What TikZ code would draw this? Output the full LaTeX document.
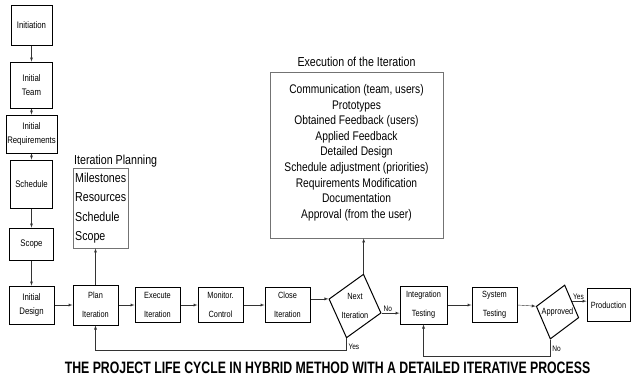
\documentclass[tikz,border=0pt]{standalone}
\usepackage{fontspec}
\setmainfont{Liberation Sans}
\newfontfamily\narrowFont[FakeStretch=0.82]{Liberation Sans}
\newfontfamily\captionFont[FakeStretch=0.745]{Liberation Sans}
\usetikzlibrary{arrows, shapes.geometric, positioning}
\tikzset{
    stepBox/.style={rectangle, draw, line width=1pt, align=center, inner sep=1pt, font=\narrowFont\fontsize{9.5}{14}\selectfont},
    flowBox/.style={rectangle, draw, line width=1pt, align=center, inner sep=1pt, minimum width=45pt, minimum height=35pt, font=\narrowFont\fontsize{9}{19}\selectfont},
    decision/.style={diamond, draw, line width=1pt, rotate=-15, inner sep=0pt},
    decisionText/.style={align=center, inner sep=0pt, font=\narrowFont\fontsize{9}{19}\selectfont},
    listBox/.style={rectangle, draw=black!55, thin, inner sep=2pt},
    titleText/.style={inner sep=1pt, font=\narrowFont\fontsize{13}{15}\selectfont},
    smallLabel/.style={inner sep=1pt, font=\narrowFont\fontsize{8}{9}\selectfont},
    flowEdge/.style={->, >=latex, thin, draw=black!80},
}
\newcommand{\flowLink}[2]{
    \draw[flowEdge] (#1) -- (#2);
}

\begin{document}
\begin{tikzpicture}[x=1pt, y=-1pt]
    \useasboundingbox (0,0) rectangle (631,381);

    % start-up phase
    \node[stepBox, minimum width=41pt, minimum height=40pt] (init) at (31.5,25) {Initiation};
    \node[stepBox, minimum width=42pt, minimum height=46pt] (team) at (31.5,85) {Initial\\Team};
    \node[stepBox, minimum width=51pt, minimum height=38pt] (req) at (31.5,134) {Initial\\Requirements};
    \node[stepBox, minimum width=42pt, minimum height=48pt] (sched) at (31.5,184) {Schedule};
    \node[stepBox, minimum width=44pt, minimum height=32pt] (scope) at (31.5,244) {Scope};
    \node[stepBox, minimum width=45pt, minimum height=38pt] (design) at (31.5,305) {Initial\\Design};

    % iteration
    \node[flowBox, minimum height=40pt] (plan) at (95.5,305) {Plan\\Iteration};
    \node[flowBox] (exec) at (157.5,305) {Execute\\Iteration};
    \node[flowBox] (monitor) at (220.5,305) {Monitor.\\Control};
    \node[flowBox] (close) at (287.5,305) {Close\\Iteration};
    \node[decision, minimum width=54pt, minimum height=66pt] (next) at (355,306) {};
    \node[decisionText] at (next) {Next\\Iteration};

    % testing
    \node[flowBox, minimum width=47pt, minimum height=38pt] (integ) at (423.5,305) {Integration\\Testing};
    \node[flowBox] (systest) at (494.5,305) {System\\Testing};
    \node[decision, minimum width=44pt, minimum height=56pt] (approved) at (557.5,312) {};
    \node[decisionText] at (approved) {Approved};
    \node[flowBox, minimum width=43pt, minimum height=33pt] (prod) at (608.5,305) {Production};

    % detail boxes
    \node[listBox, align=left, anchor=north west, minimum width=54pt, minimum height=80pt,
          font=\narrowFont\fontsize{13}{19.4}\selectfont] (plbox) at (73,168)
          {Milestones\\Resources\\Schedule\\Scope};
    \node[titleText, anchor=south west] (pltitle) at (plbox.north west) {Iteration Planning};
    \node[listBox, align=center, anchor=north, minimum width=173pt, minimum height=166pt,
          font=\narrowFont\fontsize{12.5}{15.6}\selectfont] (exbox) at (356.5,72)
          {Communication (team, users)\\Prototypes\\Obtained Feedback (users)\\Applied Feedback\\
           Detailed Design\\Schedule adjustment (priorities)\\Requirements Modification\\
           Documentation\\Approval (from the user)\\[-8pt]};
    \node[titleText, above=4pt of exbox] (extitle) {Execution of the Iteration};

    \node[font=\captionFont\bfseries\fontsize{16.5}{18}\selectfont, inner sep=0pt] (caption) at (327.5,368)
          {THE PROJECT LIFE CYCLE IN HYBRID METHOD WITH A DETAILED ITERATIVE PROCESS};

    \flowLink{init}{team}
    \flowLink{team}{req}
    \flowLink{req}{sched}
    \flowLink{sched}{scope}
    \flowLink{scope}{design}
    \flowLink{design}{plan}
    \flowLink{plan}{exec}
    \flowLink{exec}{monitor}
    \flowLink{monitor}{close}
    \draw[flowEdge] (close.east |- next.west) -- (next.west);
    \draw[flowEdge] (next.east) -- node[smallLabel, above, pos=0.35] {No} (next.east -| integ.west);
    \flowLink{integ}{systest}
    \draw[flowEdge] (systest.east) -- (approved.west);
    \draw[flowEdge] (approved.north east) -- node[smallLabel, above, pos=0.45] {Yes} (approved.north east -| prod.west);

    \draw[flowEdge] (plan.north) -- (plan.north |- plbox.south);
    \draw[flowEdge] (next.north) -- (next.north |- exbox.south);

    % loops back
    \draw[flowEdge] (next.south) -- ++(0,12) -| (plan.south);
    \node[smallLabel, below right=4pt and 1pt of next.south] {Yes};
    \draw[flowEdge] (approved.south) -- ++(0,17) -| (integ.south);
    \node[smallLabel, below right=5pt and 1pt of approved.south] {No};

\end{tikzpicture}
\end{document}
